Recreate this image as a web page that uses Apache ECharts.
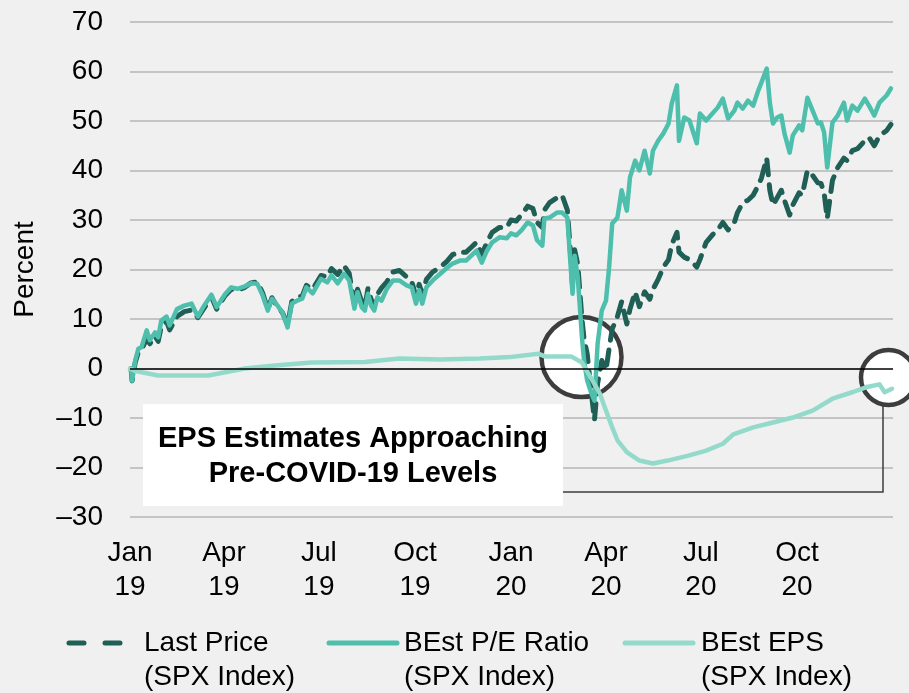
<!DOCTYPE html>
<html>
<head>
<meta charset="utf-8">
<script src="https://cdn.jsdelivr.net/npm/echarts@6/dist/echarts.min.js"></script>
<style>
  html, body { margin: 0; padding: 0; background: #f0f0f0; }
  #chart { width: 909px; height: 693px; }
</style>
</head>
<body>
<div id="chart"></div>
<script>
// series names (legend text)
var seriesNames = ['Last Price\n(SPX Index)', 'BEst P/E Ratio\n(SPX Index)', 'BEst EPS\n(SPX Index)'];
var seriesColors = ['#1f5f55', '#4dbfac', '#93dacb'];

// x axis ticks
var tickDates = ['2019-01-01', '2019-04-01', '2019-07-01', '2019-10-01', '2020-01-01', '2020-04-01', '2020-07-01', '2020-10-01'];
var tickLabels = ['Jan\n19', 'Apr\n19', 'Jul\n19', 'Oct\n19', 'Jan\n20', 'Apr\n20', 'Jul\n20', 'Oct\n20'];

// dates shared by Last Price and P/E ratio (percent change since start of 2019)
var priceDates = [
  '2019-01-02', '2019-01-03', '2019-01-06', '2019-01-09', '2019-01-12', '2019-01-17', '2019-01-20', '2019-01-25', '2019-01-28', '2019-01-31',
  '2019-02-05', '2019-02-08', '2019-02-15', '2019-02-22', '2019-03-01', '2019-03-07', '2019-03-13', '2019-03-20', '2019-03-25', '2019-04-02',
  '2019-04-08', '2019-04-14', '2019-04-21', '2019-04-27', '2019-05-03', '2019-05-08', '2019-05-13', '2019-05-17', '2019-05-22', '2019-05-27',
  '2019-06-01', '2019-06-05', '2019-06-10', '2019-06-15', '2019-06-19', '2019-06-25', '2019-07-03', '2019-07-09', '2019-07-13', '2019-07-19',
  '2019-07-25', '2019-07-30', '2019-08-04', '2019-08-07', '2019-08-11', '2019-08-14', '2019-08-17', '2019-08-20', '2019-08-23', '2019-08-26',
  '2019-08-30', '2019-09-04', '2019-09-10', '2019-09-16', '2019-09-23', '2019-09-28', '2019-10-02', '2019-10-05', '2019-10-08', '2019-10-12',
  '2019-10-18', '2019-10-25', '2019-10-31', '2019-11-06', '2019-11-13', '2019-11-19', '2019-11-24', '2019-11-29', '2019-12-04', '2019-12-09',
  '2019-12-14', '2019-12-21', '2019-12-28', '2020-01-01', '2020-01-06', '2020-01-11', '2020-01-17', '2020-01-22', '2020-01-26', '2020-01-31',
  '2020-02-02', '2020-02-07', '2020-02-14', '2020-02-19', '2020-02-24', '2020-02-27', '2020-02-29', '2020-03-02', '2020-03-05', '2020-03-09',
  '2020-03-11', '2020-03-14', '2020-03-18', '2020-03-21', '2020-03-24', '2020-03-28', '2020-04-01', '2020-04-04', '2020-04-07', '2020-04-12',
  '2020-04-16', '2020-04-21', '2020-04-24', '2020-04-29', '2020-05-03', '2020-05-08', '2020-05-13', '2020-05-16', '2020-05-21', '2020-05-26',
  '2020-05-31', '2020-06-03', '2020-06-08', '2020-06-10', '2020-06-15', '2020-06-20', '2020-06-27', '2020-06-30', '2020-07-06', '2020-07-12',
  '2020-07-17', '2020-07-22', '2020-07-27', '2020-08-02', '2020-08-05', '2020-08-10', '2020-08-15', '2020-08-20', '2020-08-25', '2020-08-28',
  '2020-09-02', '2020-09-05', '2020-09-08', '2020-09-12', '2020-09-16', '2020-09-19', '2020-09-24', '2020-09-27', '2020-10-03', '2020-10-06',
  '2020-10-11', '2020-10-16', '2020-10-21', '2020-10-24', '2020-10-27', '2020-10-30', '2020-11-04', '2020-11-09', '2020-11-15', '2020-11-18',
  '2020-11-23', '2020-11-28', '2020-12-05', '2020-12-09', '2020-12-14', '2020-12-19', '2020-12-26', '2020-12-30'
];

var lastPrice = [
  0, -2.5, 1.2, 3.3, 3.8, 6, 5, 6.5, 5.5, 8.5,
  9.5, 7.8, 10.5, 11.5, 11.8, 10.3, 12.2, 14.5, 12, 14.7,
  16, 15.8, 16.4, 17.3, 17.5, 15.3, 12, 14.3, 12.5, 11.3,
  8.8, 13.5, 14.5, 14.6, 16.8, 16, 18.8, 18.5, 20.2, 19,
  20.8, 19.2, 13, 16, 13.5, 12.5, 16.2, 14, 12.5, 15,
  16.3, 17.5, 19.5, 19.8, 18.5, 17.5, 14.5, 17, 15, 18,
  19.5, 20.5, 21.5, 23, 23.5, 23.5, 24.5, 25.5, 23, 25.5,
  27.5, 28.5, 28.5, 30, 29.8, 31, 32.8, 32.3, 29.5, 28.5,
  32, 33.5, 34.5, 35, 32, 23.5, 16.5, 24, 21, 10,
  6, 3, -5, -10.4, -3, 1.6, -0.4, 4, 8, 10.5,
  13.5, 9, 12, 15.5, 12.5, 15.5, 14, 16, 18, 20.5,
  22, 25, 27.5, 23.5, 22.5, 22, 20.5, 22, 25.5, 27,
  28, 29.5, 28, 29.5, 31.5, 33.5, 34, 35, 37, 38.5,
  42.5, 36, 33, 34.5, 36, 34, 31, 33, 35.5, 35,
  40, 39, 37.5, 37.4, 35.5, 30.3, 38, 40.6, 42.5, 42,
  44, 44.4, 46, 46.7, 45, 47, 48.1, 49.3
];

var peRatio = [
  0, -2.5, 1.6, 4, 4.3, 7.7, 5.7, 7.3, 6.3, 9.7,
  10.5, 8.7, 12, 12.7, 13.1, 10.5, 12.7, 14.9, 12.4, 15,
  16.4, 16.1, 16.6, 17.2, 17.1, 14.8, 11.7, 14.1, 12.8, 11.3,
  8.3, 13.1, 13.7, 14.1, 16.4, 15.2, 18.1, 17.4, 18.8, 17.2,
  19.1, 17.8, 12.1, 15.4, 12.4, 11.7, 15.1, 12.7, 11.7, 14.4,
  13.7, 16.1, 17.8, 17.8, 16.8, 16.4, 13.1, 15.8, 13.1, 16.4,
  17.8, 19.1, 20.2, 21.2, 21.8, 21.8, 22.8, 23.8, 21.4, 23.8,
  25.5, 26.5, 26.3, 27.3, 26.9, 27.9, 29.5, 28.9, 25.9, 24.8,
  30.3, 30.5, 31.5, 31.5, 30.5, 21.2, 15.1, 22.8, 18.4, 6.3,
  1.6, -2.4, -5, -6.5, 5, 11.7, 13.7, 20.4, 29.3, 30.5,
  36, 31.9, 38.6, 42, 40, 44, 39.4, 44, 46, 47.5,
  49.5, 53.5, 57.2, 46, 50.7, 50.1, 45.5, 51.5, 50.1, 51.5,
  52.7, 54.5, 50.5, 52.1, 53.7, 52.5, 54.1, 53.1, 56.2, 57.8,
  60.6, 53.7, 49.5, 50.7, 51.1, 47.5, 43.6, 47.1, 49.1, 48.1,
  54.7, 52.1, 49.5, 49.7, 47.7, 40.6, 49.7, 51.1, 53.7, 50.1,
  53.1, 52.1, 54.5, 53.1, 51.1, 53.7, 55.2, 56.6
];

// EPS estimate (percent change)
var epsDates = [
  '2019-01-01', '2019-01-06', '2019-01-28', '2019-03-17', '2019-04-21', '2019-05-20', '2019-06-24', '2019-08-14', '2019-09-16', '2019-10-25',
  '2019-12-02', '2019-12-31', '2020-01-27', '2020-02-03', '2020-02-28', '2020-03-09', '2020-03-19', '2020-03-26', '2020-04-01', '2020-04-07',
  '2020-04-12', '2020-04-21', '2020-05-03', '2020-05-16', '2020-05-30', '2020-06-19', '2020-07-06', '2020-07-22', '2020-08-01', '2020-08-20',
  '2020-09-08', '2020-09-27', '2020-10-16', '2020-11-04', '2020-11-23', '2020-12-06', '2020-12-19', '2020-12-24', '2020-12-31'
];
var epsValues = [
  0, -0.5, -1.4, -1.4, 0, 0.6, 1.2, 1.3, 2.0, 1.8,
  2.0, 2.3, 3.0, 2.4, 2.4, 1.2, -2.4, -5, -8.5, -11.9,
  -14.5, -16.9, -18.6, -19.2, -18.6, -17.6, -16.6, -15.2, -13.3, -11.9,
  -10.9, -9.9, -8.5, -6.1, -4.8, -3.8, -3.2, -4.8, -4.1
];

var FONT = "'Liberation Sans', Arial, sans-serif";

function toTime(s) {
  var p = s.split('-');
  return new Date(+p[0], +p[1] - 1, +p[2]).getTime();
}
function pairs(dates, values) {
  return dates.map(function (d, i) { return [toTime(d), values[i]]; });
}
var tickTimes = tickDates.map(toTime);

var myChart = echarts.init(document.getElementById('chart'));

var option = {
  backgroundColor: '#f0f0f0',
  animation: false,
  grid: { left: 130, right: 16, top: 22, bottom: 176 },
  xAxis: {
    type: 'value',
    min: toTime('2019-01-01'),
    max: toTime('2021-01-01'),
    axisLine: { show: false },
    axisTick: { show: false },
    splitLine: { show: false },
    axisLabel: {
      customValues: tickTimes,
      formatter: function (v) {
        for (var i = 0; i < tickTimes.length; i++) {
          if (Math.abs(tickTimes[i] - v) < 86400000) return tickLabels[i];
        }
        return '';
      },
      fontFamily: FONT,
      fontSize: 28,
      lineHeight: 34,
      color: '#000',
      margin: 19,
      hideOverlap: false
    }
  },
  yAxis: {
    type: 'value',
    min: -30,
    max: 70,
    interval: 10,
    name: 'Percent',
    nameLocation: 'middle',
    nameGap: 91,
    nameTextStyle: { fontFamily: FONT, fontSize: 28, color: '#000' },
    axisLine: { show: false },
    axisTick: { show: false },
    splitLine: { lineStyle: { color: '#c4c4c4', width: 2 } },
    axisLabel: {
      fontFamily: FONT,
      fontSize: 28,
      color: '#000',
      margin: 27,
      formatter: function (v) { return v < 0 ? '\u2013' + Math.abs(v) : String(v); }
    }
  },
  series: [
    {
      name: seriesNames[0],
      type: 'line',
      z: 2,
      symbol: 'none',
      data: pairs(priceDates, lastPrice),
      lineStyle: { color: seriesColors[0], width: 5, type: [15, 10], cap: 'round', join: 'round' },
      markLine: {
        silent: true,
        symbol: ['none', 'none'],
        label: { show: false },
        lineStyle: { color: '#000', width: 1.5, type: 'solid' },
        data: [{ yAxis: 0 }]
      }
    },
    {
      name: seriesNames[1],
      type: 'line',
      z: 3,
      symbol: 'none',
      data: pairs(priceDates, peRatio),
      lineStyle: { color: seriesColors[1], width: 4.5, join: 'round', cap: 'round' }
    },
    {
      name: seriesNames[2],
      type: 'line',
      z: 4,
      symbol: 'none',
      data: pairs(epsDates, epsValues),
      lineStyle: { color: seriesColors[2], width: 4.5, join: 'round', cap: 'round' }
    }
  ],
  graphic: [
    // highlight circles
    { type: 'circle', z: 1, shape: { cx: 581.5, cy: 357, r: 40 }, style: { fill: '#fff', stroke: '#3d3d3d', lineWidth: 4.5 } },
    { type: 'circle', z: 1, shape: { cx: 888.5, cy: 377.5, r: 27.5 }, style: { fill: '#fff', stroke: '#3d3d3d', lineWidth: 4.5 } },
    // connector
    { type: 'polyline', z: 10, shape: { points: [[883, 406], [883, 492], [563, 492]] }, style: { stroke: '#3d3d3d', lineWidth: 1.5, fill: null } },
    // callout box
    { type: 'rect', z: 10, shape: { x: 143, y: 404, width: 420, height: 102 }, style: { fill: '#fff' } },
    {
      type: 'text', z: 11, x: 353, y: 456,
      style: {
        text: 'EPS Estimates Approaching\nPre-COVID-19 Levels',
        font: 'bold 29px ' + FONT,
        fill: '#000',
        textAlign: 'center',
        textVerticalAlign: 'middle',
        lineHeight: 35
      }
    },
    // legend
    { type: 'line', shape: { x1: 69, y1: 643, x2: 123, y2: 643 }, style: { stroke: seriesColors[0], lineWidth: 5, lineDash: [15, 21], lineCap: 'round' } },
    { type: 'line', shape: { x1: 329, y1: 643, x2: 397, y2: 643 }, style: { stroke: seriesColors[1], lineWidth: 5, lineCap: 'round' } },
    { type: 'line', shape: { x1: 625, y1: 643, x2: 693, y2: 643 }, style: { stroke: seriesColors[2], lineWidth: 5, lineCap: 'round' } },
    { type: 'text', x: 144, y: 626, style: { text: seriesNames[0], font: '28px ' + FONT, fill: '#000', lineHeight: 34, textVerticalAlign: 'top' } },
    { type: 'text', x: 404, y: 626, style: { text: seriesNames[1], font: '28px ' + FONT, fill: '#000', lineHeight: 34, textVerticalAlign: 'top' } },
    { type: 'text', x: 701, y: 626, style: { text: seriesNames[2], font: '28px ' + FONT, fill: '#000', lineHeight: 34, textVerticalAlign: 'top' } }
  ]
};

myChart.setOption(option);
</script>
</body>
</html>
